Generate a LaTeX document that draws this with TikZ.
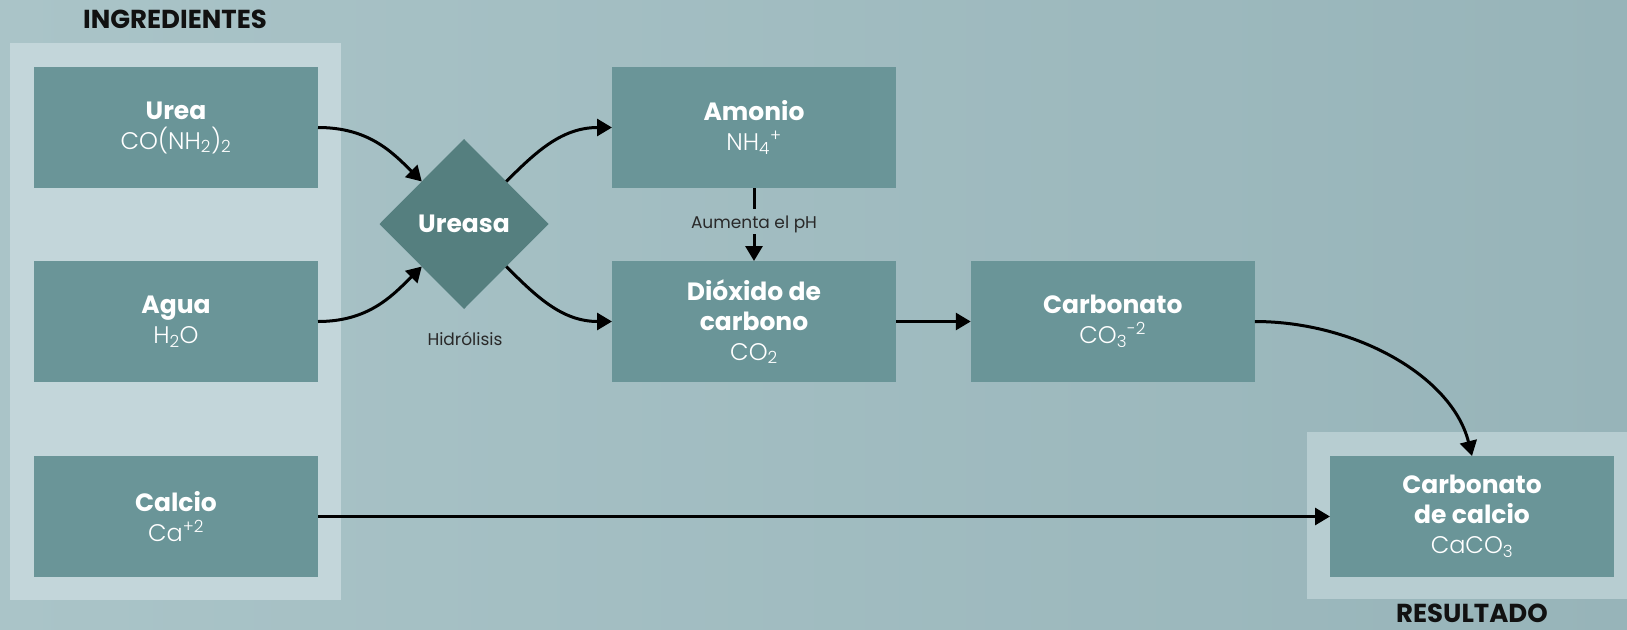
\documentclass[tikz,border=0pt]{standalone}
\usepackage{fontspec}
\setmainfont{Poppins}
\newfontfamily\lightfont{Poppins Light}
\usetikzlibrary{shapes.geometric,arrows.meta}
\definecolor{bgL}{HTML}{AAC4C8}
\definecolor{bgR}{HTML}{97B4B9}
\definecolor{panelc}{HTML}{C3D6DA}
\definecolor{respanelc}{HTML}{B7CDD1}
\definecolor{boxc}{HTML}{6A9598}
\definecolor{diac}{HTML}{557F7F}
\definecolor{ink}{HTML}{111111}
\begin{document}
\begin{tikzpicture}[x=1pt,y=-1pt,
  stagebox/.style={fill=boxc, minimum width=284pt, minimum height=121pt, inner sep=0pt, outer sep=0pt,
    text=white, align=center, font=\lightfont\fontsize{24}{30}\selectfont},
  conn/.style={line width=3pt, draw=black, -{Triangle[length=15pt,width=17pt]}},
  plainline/.style={line width=3pt, draw=black},
  smalllabel/.style={font=\fontsize{17}{20}\selectfont, text=ink!90, inner sep=0pt},
  heading/.style={font=\fontsize{26}{30}\selectfont\bfseries, text=ink, inner sep=0pt}
]
\useasboundingbox (0,0) rectangle (1627,629);
\shade[left color=bgL, right color=bgR] (0,0) rectangle (1627,629);
\fill[panelc] (10,43) rectangle (341,600);
\fill[respanelc] (1307,432) rectangle (1627,599);

\node[heading] (ing) at (175,19) {INGREDIENTES};
\node[heading] (res) at (1472,613) {RESULTADO};

\node[stagebox] (urea) at (176,127.5) {{\normalfont\bfseries\fontsize{25}{30}\selectfont Urea}\\CO(NH\textsubscript{2})\textsubscript{2}};
\node[stagebox] (agua) at (176,321.5) {{\normalfont\bfseries\fontsize{25}{30}\selectfont Agua}\\H\textsubscript{2}O};
\node[stagebox] (calcio) at (176,516.5) {{\normalfont\bfseries\fontsize{25}{30}\selectfont Calcio}\\Ca\textsuperscript{+2}};
\node[stagebox] (amonio) at (754,127.5) {{\normalfont\bfseries\fontsize{25}{30}\selectfont Amonio}\\NH\textsubscript{4}\textsuperscript{+}};
\node[stagebox] (dioxido) at (754,321.5) {{\normalfont\bfseries\fontsize{25}{30}\selectfont Dióxido de}\\{\normalfont\bfseries\fontsize{25}{30}\selectfont carbono}\\CO\textsubscript{2}};
\node[stagebox] (carbonato) at (1112.75,321.5) {{\normalfont\bfseries\fontsize{25}{30}\selectfont Carbonato}\\CO\textsubscript{3}\textsuperscript{-2}};
\node[stagebox] (caco) at (1472,516.5) {{\normalfont\bfseries\fontsize{25}{30}\selectfont Carbonato}\\{\normalfont\bfseries\fontsize{25}{30}\selectfont de calcio}\\CaCO\textsubscript{3}};

\node[diamond, fill=diac, minimum width=169pt, minimum height=170pt, inner sep=0pt, outer sep=0pt,
  text=white, font=\fontsize{25}{30}\selectfont\bfseries] (ureasa) at (464,224) {Ureasa};

\node[smalllabel, anchor=base] (hidro) at (465,345) {Hidrólisis};
\node[smalllabel, anchor=base, text depth=0pt, inner ysep=6pt] (ph) at (754,228) {Aumenta el pH};

\draw[conn] (urea.east) .. controls +(50,0) and +(-30,-30) .. (ureasa.north west);
\draw[conn] (agua.east) .. controls +(50,0) and +(-30,30) .. (ureasa.south west);
\draw[conn] (ureasa.north east) .. controls +(30,-30) and +(-50,0) .. (amonio.west);
\draw[conn] (ureasa.south east) .. controls +(30,30) and +(-50,0) .. (dioxido.west);
\draw[plainline] (amonio.south) -- (ph.north);
\draw[conn] (ph.south) -- (dioxido.north);
\draw[conn] (dioxido.east) -- (carbonato.west);
\draw[conn] (carbonato.east) .. controls +(100,0) and +(-20,-80) .. (caco.north);
\draw[conn] (calcio.east) -- (caco.west);
\end{tikzpicture}
\end{document}
